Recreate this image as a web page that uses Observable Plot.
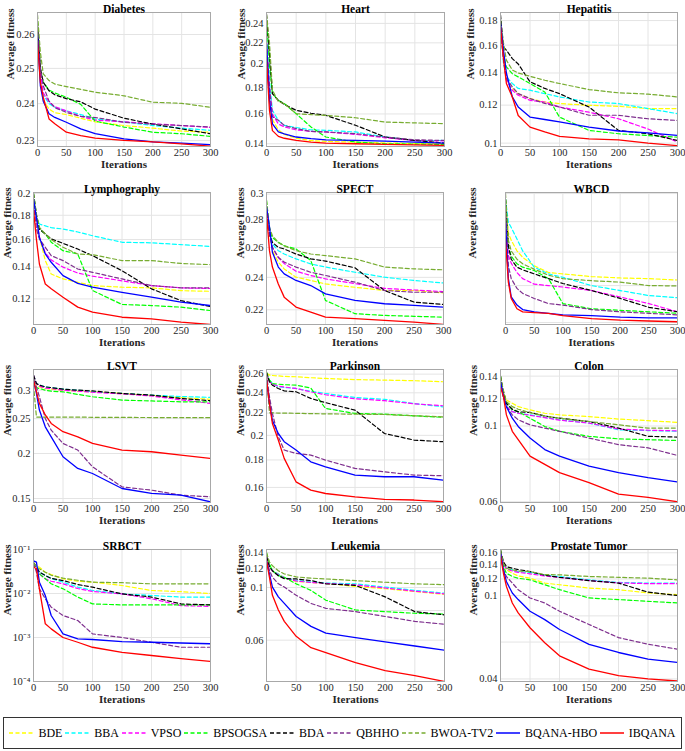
<!DOCTYPE html>
<html><head><meta charset="utf-8">
<script src="https://cdn.jsdelivr.net/npm/d3@7"></script>
<script src="https://cdn.jsdelivr.net/npm/@observablehq/plot@0.6"></script>
<style>
body{margin:0;background:#fff;}
#chart{position:relative;width:685px;height:751px;background:#fff;font-family:"Liberation Serif","Times New Roman",Times,serif;overflow:hidden;}
#legend{position:absolute;left:3px;top:717px;width:679px;height:32px;border:1px solid #333;display:flex;align-items:center;justify-content:space-around;box-sizing:border-box;font-size:12px;color:#000;padding:0 4px;}
.item{display:flex;align-items:center;gap:5px;white-space:nowrap;}
</style></head><body><div id="chart"><div id="legend"></div></div>
<script>
const ITER = [0, 5, 10, 20, 30, 50, 75, 100, 150, 200, 250, 300];
const SERIES = ["BDE","BBA","VPSO","BPSOGSA","BDA","QBHHO","BWOA-TV2","BQANA-HBO","IBQANA"];
const COLORS = ["#ffff00","#00ffff","#ff00ff","#00ff00","#000000","#7e2f8e","#77ac30","#0000ff","#ff0000"];
const DASHED = [true,true,true,true,true,true,true,false,false];
const TITLES = ["Diabetes","Heart","Hepatitis","Lymphography","SPECT","WBCD","LSVT","Parkinson","Colon","SRBCT","Leukemia","Prostate Tumor"];
const X_TICKS = [0, 50, 100, 150, 200, 250, 300];

// each panel: rows in SERIES order, values at ITER
const diabetes = [
  [0.262,0.248,0.241,0.2385,0.2375,0.237,0.236,0.235,0.234,0.2333,0.2325,0.2322],
  [0.262,0.249,0.2425,0.240,0.239,0.238,0.237,0.2358,0.235,0.234,0.2333,0.2327],
  [0.262,0.249,0.243,0.2405,0.2392,0.238,0.2365,0.2355,0.235,0.2345,0.234,0.2335],
  [0.264,0.250,0.246,0.2438,0.243,0.2418,0.2398,0.2352,0.2336,0.2322,0.2318,0.2311],
  [0.263,0.250,0.246,0.2436,0.2425,0.2414,0.2405,0.2385,0.236,0.2344,0.2331,0.2318],
  [0.262,0.250,0.245,0.2407,0.2389,0.2376,0.2365,0.2362,0.2349,0.2344,0.2340,0.2336],
  [0.266,0.2547,0.2484,0.2465,0.2455,0.2448,0.2440,0.2432,0.2422,0.2404,0.2401,0.2390],
  [0.260,0.245,0.2407,0.2372,0.2362,0.2349,0.2331,0.2318,0.2304,0.2296,0.2293,0.2289],
  [0.258,0.246,0.2418,0.2358,0.2345,0.2322,0.2313,0.2306,0.2300,0.2296,0.2291,0.2285]
];
const heart = [
  [0.215,0.168,0.156,0.149,0.146,0.1435,0.142,0.1415,0.141,0.1405,0.1402,0.140],
  [0.225,0.185,0.1626,0.1555,0.152,0.1506,0.149,0.1487,0.1476,0.1443,0.142,0.1421],
  [0.22,0.18,0.160,0.153,0.151,0.149,0.148,0.1476,0.146,0.1438,0.142,0.1418],
  [0.245,0.20,0.1752,0.1701,0.1676,0.1602,0.1509,0.1443,0.1411,0.1400,0.1398,0.1396],
  [0.25,0.21,0.1752,0.1701,0.167,0.1626,0.1605,0.1590,0.1521,0.1443,0.1421,0.1404],
  [0.22,0.18,0.158,0.1555,0.152,0.1498,0.148,0.1476,0.1465,0.1443,0.1425,0.1421],
  [0.25,0.22,0.1779,0.1691,0.1676,0.1602,0.1595,0.1590,0.1573,0.1543,0.1537,0.1532],
  [0.22,0.1703,0.1531,0.1476,0.1464,0.1443,0.1432,0.1425,0.1421,0.1417,0.1410,0.1404],
  [0.205,0.1626,0.1485,0.1447,0.1435,0.1421,0.141,0.1404,0.1400,0.1396,0.1393,0.1390]
];
const hepatitis = [
  [0.175,0.150,0.1352,0.130,0.1268,0.1238,0.1218,0.1209,0.1199,0.1193,0.118,0.118],
  [0.175,0.1468,0.1374,0.1331,0.130,0.1289,0.1268,0.1248,0.1218,0.1209,0.118,0.1152],
  [0.175,0.150,0.1352,0.1289,0.1258,0.1228,0.1218,0.1189,0.116,0.1124,0.107,0.1005],
  [0.18,0.1525,0.1442,0.1395,0.1374,0.1331,0.1278,0.1133,0.1063,0.1046,0.1037,0.1029],
  [0.185,0.1585,0.1562,0.150,0.1462,0.1342,0.130,0.1268,0.1189,0.1063,0.1046,0.1013],
  [0.175,0.150,0.1363,0.1310,0.1268,0.1238,0.121,0.1189,0.1143,0.1143,0.1124,0.1115],
  [0.18,0.162,0.1489,0.142,0.140,0.1378,0.1352,0.1331,0.1293,0.1273,0.1265,0.1248],
  [0.178,0.1562,0.140,0.1248,0.1189,0.1133,0.112,0.1107,0.1080,0.106,0.105,0.1038],
  [0.175,0.150,0.1331,0.1248,0.1142,0.1080,0.1055,0.1033,0.1021,0.1016,0.100,0.0988]
];
const lymphography = [
  [0.19,0.175,0.162,0.1445,0.1354,0.1322,0.1301,0.128,0.127,0.1266,0.1249,0.1245],
  [0.19,0.178,0.1725,0.171,0.1695,0.1684,0.166,0.1630,0.1579,0.1575,0.1561,0.1548],
  [0.19,0.175,0.162,0.150,0.145,0.140,0.136,0.134,0.131,0.128,0.1266,0.1262],
  [0.20,0.1796,0.1684,0.1644,0.158,0.1516,0.1492,0.125,0.1168,0.1162,0.1153,0.1134],
  [0.20,0.18,0.1684,0.1644,0.1605,0.1571,0.1528,0.1480,0.1376,0.1260,0.1190,0.1156],
  [0.19,0.1684,0.1605,0.1541,0.1480,0.1445,0.1387,0.1365,0.1322,0.1280,0.1266,0.1266],
  [0.20,0.181,0.1698,0.1644,0.160,0.1541,0.1492,0.1487,0.1445,0.1445,0.1425,0.1417],
  [0.195,0.178,0.1617,0.1492,0.1433,0.1343,0.1294,0.1270,0.1239,0.1210,0.1181,0.1162],
  [0.185,0.160,0.1421,0.1290,0.1260,0.1210,0.1153,0.1125,0.1098,0.1089,0.1072,0.1060]
];
const spect = [
  [0.29,0.27,0.2578,0.25,0.2455,0.2401,0.2380,0.2358,0.2337,0.2317,0.2317,0.2302],
  [0.29,0.2745,0.2624,0.2578,0.2555,0.2522,0.2488,0.2467,0.2433,0.2401,0.2380,0.2364],
  [0.29,0.272,0.260,0.253,0.249,0.244,0.2412,0.239,0.236,0.233,0.232,0.231],
  [0.295,0.2720,0.2671,0.2636,0.2612,0.2590,0.2511,0.2256,0.2177,0.2167,0.2162,0.2157],
  [0.29,0.2695,0.2636,0.2601,0.2590,0.2555,0.2522,0.2507,0.2462,0.2317,0.2246,0.2232],
  [0.29,0.27,0.2601,0.2533,0.2500,0.2467,0.2433,0.2412,0.2369,0.2317,0.2306,0.2306],
  [0.295,0.2745,0.2683,0.2636,0.2612,0.2578,0.2555,0.2544,0.2522,0.2467,0.2455,0.2449],
  [0.29,0.275,0.2567,0.2467,0.2422,0.2380,0.2348,0.2296,0.2256,0.2236,0.2226,0.2216],
  [0.285,0.2578,0.2467,0.2358,0.2276,0.2216,0.2186,0.2157,0.2148,0.2138,0.2129,0.2115]
];
const wbcd = [
  [0.063,0.0581,0.0569,0.0552,0.0542,0.0529,0.0519,0.0517,0.0513,0.0511,0.051,0.0508],
  [0.064,0.0599,0.059,0.0571,0.0552,0.0527,0.0517,0.0512,0.0500,0.0493,0.0486,0.0483],
  [0.062,0.0545,0.0533,0.0519,0.051,0.0502,0.050,0.0498,0.0493,0.0484,0.0475,0.0464],
  [0.064,0.0558,0.0544,0.0532,0.0527,0.0522,0.0510,0.0475,0.0468,0.0466,0.0464,0.0462],
  [0.064,0.0560,0.0539,0.0527,0.0523,0.0517,0.0510,0.0503,0.0493,0.0482,0.0470,0.0464],
  [0.062,0.0529,0.0510,0.0496,0.0489,0.0482,0.0475,0.0473,0.0467,0.0464,0.0462,0.0460],
  [0.065,0.0569,0.0552,0.0539,0.0532,0.0524,0.0515,0.0510,0.0507,0.0505,0.0500,0.04995],
  [0.060,0.0510,0.0484,0.0473,0.0467,0.0464,0.0462,0.0460,0.0459,0.0457,0.0456,0.0456],
  [0.057,0.0505,0.0482,0.0468,0.0464,0.0463,0.0462,0.0459,0.0455,0.0453,0.0452,0.0451]
];
const lsvt = [
  [0.33,0.31,0.3064,0.3032,0.302,0.3,0.298,0.2969,0.2937,0.290,0.286,0.283],
  [0.33,0.313,0.3097,0.3064,0.305,0.302,0.300,0.2969,0.2937,0.2906,0.288,0.2865],
  [0.33,0.312,0.308,0.304,0.303,0.300,0.298,0.296,0.293,0.289,0.282,0.2756],
  [0.32,0.305,0.3032,0.300,0.298,0.2969,0.292,0.2876,0.2815,0.2800,0.2785,0.2785],
  [0.33,0.313,0.3097,0.3064,0.305,0.302,0.300,0.2985,0.2937,0.2906,0.2845,0.2805],
  [0.32,0.3064,0.2876,0.2502,0.2323,0.2133,0.2045,0.1837,0.1616,0.1582,0.1532,0.1516],
  [0.31,0.2525,0.2525,0.2525,0.2525,0.2525,0.2525,0.2522,0.252,0.2518,0.2517,0.2515],
  [0.32,0.2937,0.2641,0.2373,0.2226,0.1959,0.1818,0.1760,0.1599,0.1549,0.1532,0.1468],
  [0.32,0.2969,0.2756,0.2560,0.2424,0.2300,0.2226,0.2133,0.2045,0.2023,0.1980,0.1938]
];
const parkinson = [
  [0.261,0.2589,0.2585,0.258,0.2575,0.2571,0.256,0.2552,0.2540,0.2534,0.2528,0.2516],
  [0.26,0.2534,0.2498,0.2463,0.2455,0.2445,0.2416,0.2393,0.2352,0.2334,0.2293,0.2260],
  [0.26,0.252,0.249,0.247,0.246,0.2445,0.241,0.238,0.234,0.232,0.229,0.227],
  [0.262,0.2534,0.2498,0.2490,0.2485,0.2480,0.2450,0.2244,0.2197,0.2190,0.2175,0.2160],
  [0.262,0.2516,0.2480,0.2445,0.2420,0.2411,0.2343,0.2301,0.2228,0.2016,0.1960,0.1946],
  [0.26,0.2360,0.2197,0.1988,0.1878,0.1851,0.1838,0.1799,0.1736,0.1711,0.1687,0.1682],
  [0.26,0.2203,0.2203,0.2200,0.2200,0.2198,0.2195,0.2193,0.2190,0.2187,0.2175,0.2165],
  [0.255,0.2293,0.2132,0.2016,0.1946,0.1878,0.1786,0.1748,0.1687,0.1675,0.1675,0.1651],
  [0.255,0.2293,0.2104,0.1960,0.1812,0.1639,0.1582,0.1559,0.1537,0.1520,0.1516,0.1505]
];
const colon = [
  [0.135,0.125,0.1192,0.1166,0.1140,0.1115,0.1090,0.1078,0.1066,0.1048,0.1037,0.1025],
  [0.135,0.125,0.1140,0.1102,0.1090,0.1078,0.106,0.1043,0.1020,0.0975,0.0970,0.0965],
  [0.135,0.124,0.1140,0.1102,0.1090,0.1075,0.1058,0.1040,0.1020,0.0980,0.0972,0.0968],
  [0.14,0.1219,0.1166,0.1115,0.1102,0.1054,0.0997,0.0965,0.0933,0.0917,0.0912,0.0907],
  [0.14,0.126,0.1166,0.1120,0.110,0.1096,0.1070,0.1054,0.1031,0.0986,0.0933,0.0928],
  [0.135,0.122,0.1140,0.1078,0.1043,0.1008,0.0986,0.0965,0.0922,0.0882,0.0863,0.0820],
  [0.14,0.127,0.1179,0.1140,0.112,0.1095,0.1070,0.1054,0.1031,0.1008,0.0986,0.0986],
  [0.135,0.1219,0.1140,0.1054,0.0997,0.0922,0.0853,0.0816,0.0763,0.0730,0.0706,0.0686],
  [0.13,0.1219,0.1078,0.0965,0.0912,0.0816,0.0772,0.0730,0.0683,0.0632,0.0618,0.0600]
];
const srbct = [
  [0.05,0.042,0.0397,0.0305,0.027,0.0216,0.019,0.0181,0.0152,0.0117,0.0110,0.0100],
  [0.05,0.04,0.0305,0.0257,0.022,0.0181,0.014,0.0117,0.0098,0.0090,0.0083,0.0083],
  [0.05,0.038,0.0280,0.0216,0.019,0.0166,0.013,0.0111,0.0098,0.0076,0.0053,0.0051],
  [0.05,0.0364,0.0280,0.0216,0.0166,0.0128,0.0083,0.0058,0.0055,0.0055,0.0055,0.0055],
  [0.05,0.04,0.0305,0.0257,0.022,0.0197,0.016,0.0139,0.0098,0.0083,0.0058,0.0055],
  [0.05,0.0305,0.0128,0.0076,0.0049,0.00316,0.00243,0.00121,0.0010,0.00078,0.00060,0.00060],
  [0.05,0.04,0.0364,0.0305,0.026,0.0223,0.020,0.0181,0.0176,0.0166,0.0166,0.0166],
  [0.055,0.0515,0.0181,0.0090,0.00316,0.00121,0.00093,0.00090,0.00081,0.00078,0.00075,0.00072],
  [0.04,0.0364,0.0128,0.00205,0.00157,0.0010,0.00078,0.00060,0.00046,0.00039,0.00033,0.000285]
];
const leukemia = [
  [0.135,0.125,0.1176,0.1139,0.110,0.1060,0.1050,0.1040,0.1010,0.0988,0.0962,0.0935],
  [0.135,0.125,0.1176,0.1139,0.110,0.1069,0.1055,0.1044,0.1036,0.1004,0.0972,0.0946],
  [0.135,0.124,0.117,0.113,0.1095,0.1065,0.105,0.104,0.1025,0.0995,0.0965,0.094],
  [0.14,0.1253,0.1176,0.1121,0.1104,0.1036,0.0972,0.0884,0.0804,0.0791,0.0779,0.0773],
  [0.135,0.122,0.1176,0.1121,0.109,0.1086,0.1069,0.1036,0.1020,0.0913,0.0791,0.0767],
  [0.13,0.118,0.1104,0.1036,0.1004,0.0927,0.0857,0.0817,0.0791,0.0755,0.0720,0.0700],
  [0.14,0.128,0.1234,0.1176,0.114,0.1108,0.1095,0.1086,0.1069,0.1052,0.1036,0.1028],
  [0.13,0.1139,0.1004,0.0913,0.0857,0.0755,0.0686,0.0643,0.0615,0.0590,0.0567,0.0545],
  [0.13,0.1104,0.0927,0.0804,0.0720,0.0623,0.0558,0.0532,0.0483,0.0447,0.0426,0.0402]
];
const prostate = [
  [0.16,0.1425,0.1326,0.1278,0.124,0.1211,0.1147,0.1126,0.1086,0.1067,0.1029,0.1010],
  [0.16,0.142,0.1350,0.1326,0.130,0.1288,0.1250,0.1233,0.1189,0.1155,0.1147,0.1147],
  [0.16,0.142,0.134,0.131,0.129,0.127,0.124,0.122,0.118,0.115,0.114,0.114],
  [0.165,0.1375,0.1278,0.1233,0.121,0.1189,0.1126,0.1067,0.0974,0.0957,0.0939,0.0922],
  [0.165,0.145,0.1375,0.1350,0.133,0.1302,0.125,0.1222,0.1179,0.1147,0.1038,0.1001],
  [0.155,0.1326,0.1233,0.1147,0.1067,0.0974,0.0922,0.0842,0.0728,0.0630,0.0586,0.0555],
  [0.165,0.142,0.1350,0.1326,0.131,0.1302,0.126,0.1256,0.1233,0.1222,0.1211,0.1189],
  [0.16,0.1326,0.1168,0.1029,0.0957,0.0842,0.0768,0.0689,0.0585,0.0535,0.0497,0.0480],
  [0.155,0.1278,0.1106,0.0922,0.0827,0.0702,0.0596,0.0516,0.0446,0.0415,0.0400,0.0391]
];
const PANEL_DATA = [diabetes, heart, hepatitis, lymphography, spect, wbcd, lsvt, parkinson, colon, srbct, leukemia, prostate];

const Y_DOMAINS = [
  [0.2284,0.2667],[0.1383,0.252],[0.0984,0.1871],
  [0.106,0.201],[0.2115,0.3013],[0.04475,0.0652],
  [0.1462,0.3424],[0.150,0.2652],[0.0597,0.1464],
  [0.0001,0.1],[0.0402,0.1445],[0.0389,0.1659]
];
const Y_TICKS = [
  [0.23,0.24,0.25,0.26],
  [0.14,0.16,0.18,0.2,0.22,0.24],
  [0.1,0.12,0.14,0.16,0.18],
  [0.12,0.14,0.16,0.18,0.2],
  [0.22,0.24,0.26,0.28,0.3],
  [0.045,0.05,0.055,0.06,0.065],
  [0.15,0.2,0.25,0.3],
  [0.16,0.18,0.2,0.22,0.24,0.26],
  [0.06,0.08,0.1,0.12,0.14],
  [0.0001,0.001,0.01,0.1],
  [0.06,0.08,0.1,0.12,0.14],
  [0.04,0.06,0.08,0.1,0.12,0.14,0.16]
];

// ---- layout (pixels) ----
const COL_LEFT = [0, 228, 455];
const ROW_TOP = [12, 192, 369, 549];
const ROW_BOTTOM = [146, 324, 502, 681];
const PLOT_LEFT = [37,266,500, 33,266,505, 33,266,500, 33,266,500];
const PLOT_RIGHT = [210,444,677, 210,443,677, 210,443,677, 210,444,677];
const YLAB_OFF = [27,25,30, 26,26,33, 26,26,27, 26,26,27];
const FONT = '"Liberation Serif","Times New Roman",Times,serif';
const SUP = {"-":"\u207B","0":"\u2070","1":"\u00B9","2":"\u00B2","3":"\u00B3","4":"\u2074","5":"\u2075"};

const chart = document.getElementById("chart");
PANEL_DATA.forEach((vals, p) => {
  const col = p % 3, row = Math.floor(p / 3);
  const left = COL_LEFT[col];
  const mt = 16, mb = 30, mr = 6;
  const ml = PLOT_LEFT[p] - left;
  const width = PLOT_RIGHT[p] + mr - left;
  const height = ROW_BOTTOM[row] - ROW_TOP[row] + mt + mb;
  const fmt = p === 9
    ? d => "10" + String(Math.round(Math.log10(d))).split("").map(c => SUP[c]).join("")
    : d => String(d);
  const svg = Plot.plot({
    width, height,
    marginLeft: ml, marginRight: mr, marginTop: mt, marginBottom: mb,
    style: {fontFamily: FONT, fontSize: "10.5px", color: "#262626", background: "transparent", overflow: "visible"},
    x: {domain: [0, 300]},
    y: {type: "log", domain: Y_DOMAINS[p]},
    marks: [
      Plot.gridX(X_TICKS, {stroke: "#e4e4e4", strokeOpacity: 1}),
      Plot.gridY(Y_TICKS[p], {stroke: "#e4e4e4", strokeOpacity: 1}),
      ...SERIES.map((s, i) => Plot.line(vals[i], {
        x: (d, j) => ITER[j], y: d => d,
        stroke: COLORS[i],
        strokeWidth: DASHED[i] ? 1.2 : 1.3,
        strokeDasharray: DASHED[i] ? "4,2.5" : null,
        clip: true
      })),
      Plot.frame({stroke: "#a8a8a8"}),
      Plot.axisX(X_TICKS, {tickSize: 0, tickPadding: 2, label: null, fill: "#262626", fontSize: 10.5, fontFamily: FONT}),
      Plot.axisY(Y_TICKS[p], {tickSize: 0, tickPadding: 3, label: null, tickFormat: fmt, fill: "#262626", fontSize: 10.5, fontFamily: FONT}),
      Plot.text([TITLES[p]], {text: d => d, frameAnchor: "top", dy: -8, fontWeight: "bold", fontSize: 11.5, fontFamily: FONT, fill: "#000"}),
      Plot.text(["Iterations"], {text: d => d, frameAnchor: "bottom", dy: 21, fontWeight: "bold", fontSize: 11, fontFamily: FONT, fill: "#262626"}),
      Plot.text(["Average fitness"], {text: d => d, frameAnchor: "left", rotate: -90, dx: -YLAB_OFF[p], fontWeight: "bold", fontSize: 11, fontFamily: FONT, fill: "#262626"})
    ]
  });
  svg.style.position = "absolute";
  svg.style.left = left + "px";
  svg.style.top = (ROW_TOP[row] - mt) + "px";
  chart.appendChild(svg);
});

// legend
const legend = document.getElementById("legend");
SERIES.forEach((s, i) => {
  const item = document.createElement("div");
  item.className = "item";
  const ns = "http://www.w3.org/2000/svg";
  const sw = document.createElementNS(ns, "svg");
  sw.setAttribute("width", 24); sw.setAttribute("height", 8);
  const ln = document.createElementNS(ns, "line");
  ln.setAttribute("x1", 0); ln.setAttribute("x2", 24); ln.setAttribute("y1", 4); ln.setAttribute("y2", 4);
  ln.setAttribute("stroke", COLORS[i]); ln.setAttribute("stroke-width", DASHED[i] ? 1.3 : 1.5);
  if (DASHED[i]) ln.setAttribute("stroke-dasharray", "4,2.5");
  sw.appendChild(ln);
  const t = document.createElement("span");
  t.textContent = s;
  item.appendChild(sw); item.appendChild(t);
  legend.appendChild(item);
});
</script></body></html>
